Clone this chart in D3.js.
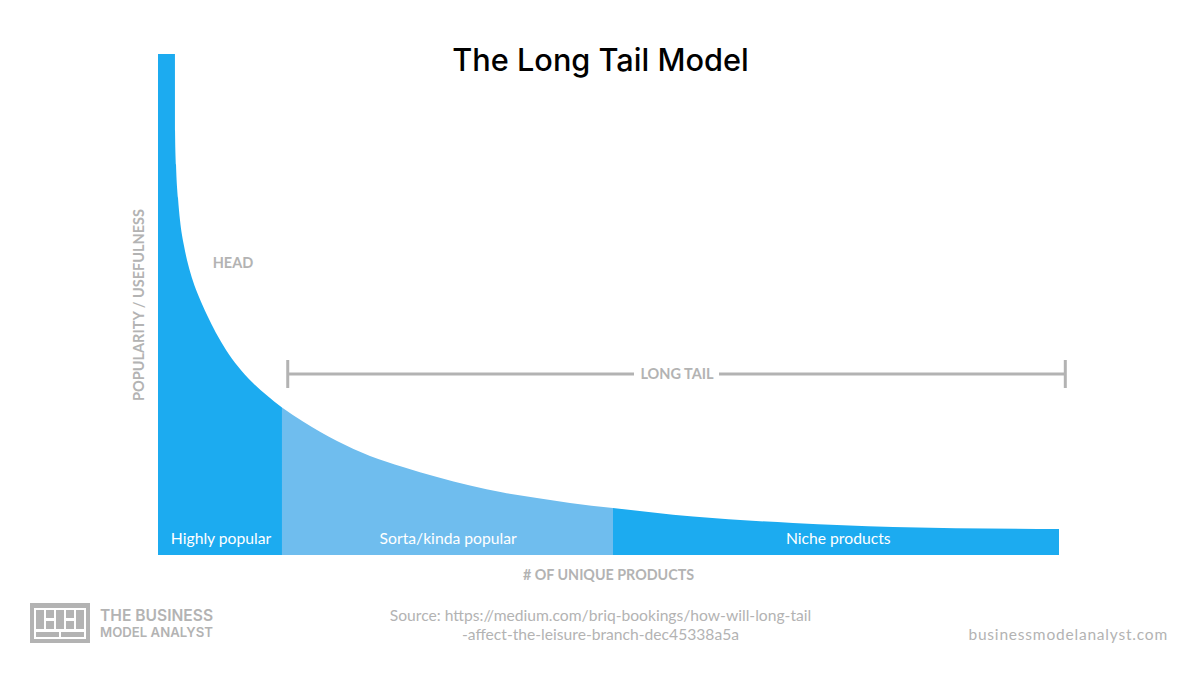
<!DOCTYPE html>
<html>
<head>
<meta charset="utf-8">
<script src="https://cdnjs.cloudflare.com/ajax/libs/d3/7.8.5/d3.min.js"></script>
<style>
  html, body { margin: 0; background: #fff; }
  text { font-family: Lato, sans-serif; }
</style>
</head>
<body>
<div class="board"></div>
<script>
// values, x is 0-100 along the products axis, y is 0-100 popularity
var ranks      = [0, 1.88, 1.89, 2.00, 2.22, 2.44, 2.89, 3.33, 3.88, 4.55, 5.44, 6.44, 7.55, 8.88, 10.43, 12.10, 13.76, 16.09, 19.87, 23.53, 27.19, 30.97, 34.63, 38.29, 42.06, 45.73, 50.5, 59.38, 70.48, 81.58, 100];
var popularity = [100, 100, 84.8, 77.84, 71.26, 66.87, 61.68, 58.08, 54.69, 51.50, 47.90, 44.31, 40.92, 37.62, 34.53, 31.84, 29.44, 26.65, 22.75, 19.76, 17.56, 15.57, 13.87, 12.48, 11.38, 10.38, 9.38, 7.68, 6.39, 5.59, 5.19];

var segmentNames  = ['Highly popular', 'Sorta/kinda popular', 'Niche products'];
var segmentStarts = [0, 13.76, 50.5];
var segmentEnds   = [13.76, 50.5, 100];
var segmentLabelAt = [7.0, 32.2, 75.5];
var segmentFills  = ['#1cabf0', '#6fbdee', '#1cabf0'];
var tailRange = [14.4, 100.7];

var width = 1200, height = 675;
var x = d3.scaleLinear().domain([0, 100]).range([158, 1059]);
var y = d3.scaleLinear().domain([0, 100]).range([555, 54]);
var grey = '#b3b3b3';

var svg = d3.select('.board').append('svg')
  .attr('width', width)
  .attr('height', height)
  .style('display', 'block');

var points = ranks.map(function(r, i){ return {x: r, y: popularity[i]}; });

var area = d3.area()
  .x(function(d){ return x(d.x); })
  .y0(y(0))
  .y1(function(d){ return y(d.y); })
  .curve(d3.curveMonotoneX);

// one area per segment, neighbours share the boundary point
svg.selectAll('path.segment')
  .data(segmentNames)
  .enter()
  .append('path')
  .attr('class', 'segment')
  .attr('fill', function(d, i){ return segmentFills[i]; })
  .attr('d', function(d, i){
    return area(points.filter(function(p){
      return p.x >= segmentStarts[i] && p.x <= segmentEnds[i];
    }));
  });

svg.selectAll('text.segment-label')
  .data(segmentNames)
  .enter()
  .append('text')
  .attr('class', 'segment-label')
  .attr('x', function(d, i){ return x(segmentLabelAt[i]); })
  .attr('y', 544)
  .attr('text-anchor', 'middle')
  .attr('fill', '#fff')
  .attr('font-size', 15.7)
  .text(function(d){ return d; });

svg.append('text')
  .attr('x', 600.5).attr('y', 71)
  .attr('text-anchor', 'middle')
  .attr('font-size', 30.7)
  .style('font-family', 'Inter, sans-serif')
  .style('font-weight', 500)
  .attr('fill', '#000')
  .text('The Long Tail Model');

svg.append('text')
  .attr('transform', 'translate(144,305) rotate(-90)')
  .attr('text-anchor', 'middle')
  .attr('font-size', 14.5)
  .attr('font-weight', 700)
  .attr('fill', grey)
  .text('POPULARITY / USEFULNESS');

svg.append('text')
  .attr('x', 608.5).attr('y', 580)
  .attr('text-anchor', 'middle')
  .attr('font-size', 14.3)
  .attr('font-weight', 700)
  .attr('fill', grey)
  .text('# OF UNIQUE PRODUCTS');

svg.append('text')
  .attr('x', 233).attr('y', 268)
  .attr('text-anchor', 'middle')
  .attr('font-size', 14.5)
  .attr('font-weight', 700)
  .attr('fill', grey)
  .text('HEAD');

// long tail bracket
var bracketY = 374;
var g = svg.append('g').attr('stroke', grey).attr('stroke-width', 3).attr('fill', 'none');
g.append('line').attr('x1', x(tailRange[0])).attr('x2', 634).attr('y1', bracketY).attr('y2', bracketY);
g.append('line').attr('x1', 719).attr('x2', x(tailRange[1])).attr('y1', bracketY).attr('y2', bracketY);
tailRange.forEach(function(t){
  g.append('line').attr('x1', x(t)).attr('x2', x(t)).attr('y1', bracketY - 14).attr('y2', bracketY + 14);
});
svg.append('text')
  .attr('x', 677).attr('y', 378.5)
  .attr('text-anchor', 'middle')
  .attr('font-size', 14.5)
  .attr('font-weight', 700)
  .attr('fill', grey)
  .text('LONG TAIL');

// source
svg.selectAll('text.source')
  .data(['Source: https://medium.com/briq-bookings/how-will-long-tail', '-affect-the-leisure-branch-dec45338a5a'])
  .enter()
  .append('text')
  .attr('class', 'source')
  .attr('x', 600.5)
  .attr('y', function(d, i){ return 621 + i * 19; })
  .attr('text-anchor', 'middle')
  .attr('font-size', 15.65)
  .attr('fill', grey)
  .text(function(d){ return d; });

svg.append('text')
  .attr('x', 1168).attr('y', 640)
  .attr('text-anchor', 'end')
  .attr('font-size', 15.5)
  .attr('letter-spacing', 0.8)
  .attr('fill', grey)
  .text('businessmodelanalyst.com');

// logo
var logo = svg.append('g').attr('transform', 'translate(30,603)');
logo.append('rect').attr('width', 60).attr('height', 40).attr('fill', grey);
logo.append('rect').attr('x', 4).attr('y', 5).attr('width', 52).attr('height', 31).attr('fill', '#fff');
var logoCells = [[6,7,8,19],[16,7,8,8],[16,18,8,8],[26,7,8,19],[36,7,8,8],[36,18,8,8],[46,7,8,19],[6,29,23,5],[31,29,23,5]];
logo.selectAll('rect.cell')
  .data(logoCells)
  .enter()
  .append('rect')
  .attr('class', 'cell')
  .attr('x', function(d){ return d[0]; })
  .attr('y', function(d){ return d[1]; })
  .attr('width', function(d){ return d[2]; })
  .attr('height', function(d){ return d[3]; })
  .attr('fill', grey);

svg.append('text')
  .attr('x', 100).attr('y', 620.5)
  .attr('font-size', 15.6)
  .attr('font-weight', 600)
  .style('font-family', 'Inter, sans-serif')
  .attr('fill', grey)
  .text('THE BUSINESS');
svg.append('text')
  .attr('x', 100).attr('y', 637)
  .attr('font-size', 13.2)
  .attr('font-weight', 600)
  .style('font-family', 'Inter, sans-serif')
  .attr('fill', grey)
  .text('MODEL ANALYST');
</script>
</body>
</html>
